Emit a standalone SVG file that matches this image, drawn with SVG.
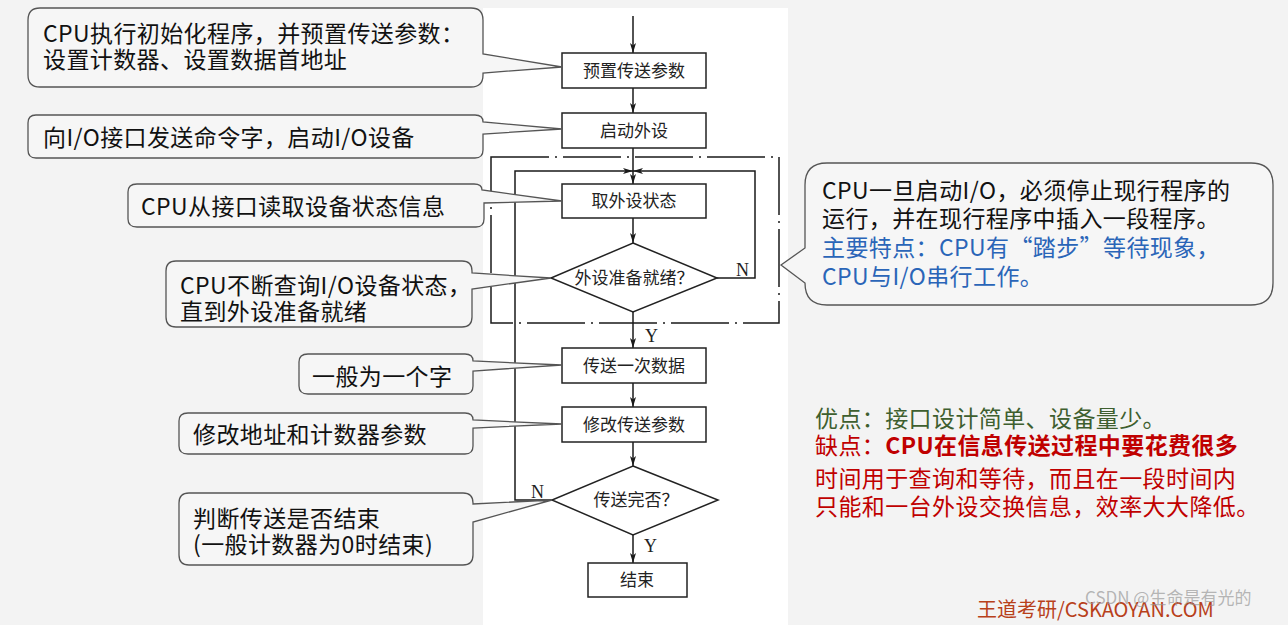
<svg xmlns="http://www.w3.org/2000/svg" width="1288" height="625" viewBox="0 0 1288 625">
<defs>
<marker id="ah" viewBox="0 0 10 6" refX="10" refY="3" markerWidth="10" markerHeight="6" markerUnits="userSpaceOnUse" orient="auto">
<path d="M0,0 L10,3 L0,6 L2.5,3 Z" fill="#1a1a1a"/>
</marker>
<style>
.box{fill:#fff;stroke:#222;stroke-width:1.5}
.fl{font-family:"Noto Sans CJK SC","Noto Sans",sans-serif;font-size:17px;fill:#222;text-anchor:middle}
.yn{font-family:"Liberation Serif",serif;font-size:18px;fill:#222}
.con{fill:none;stroke:#1a1a1a;stroke-width:1.5}
.arr{marker-end:url(#ah)}
.co{fill:#f6f6f6;stroke:#555;stroke-width:1.3}
.ct{font-family:"Noto Sans CJK SC","Noto Sans",sans-serif;font-size:23px;letter-spacing:0.4px;fill:#111}
.blue{fill:#2a65b8}
.grn{fill:#3e5f2f}
.red{fill:#c00000}
</style>
</defs>
<rect x="0" y="0" width="1288" height="625" fill="#f3f3f3"/>
<rect x="483" y="8" width="305" height="617" fill="#ffffff"/>

<g id="connectors">
<rect x="491" y="157" width="288" height="166" fill="none" stroke="#1a1a1a" stroke-width="1.5" stroke-dasharray="58 6 2 6"/>
<path class="con arr" d="M633,16 V53"/>
<path class="con arr" d="M633,88 V113"/>
<path class="con arr" d="M633,148 V184"/>
<path class="con arr" d="M717,278 H755 V171 H633"/>
<path class="con arr" d="M552,500 H515 V171 H633"/>
<path class="con arr" d="M633,218 V243"/>
<path class="con arr" d="M633,312 V348"/>
<path class="con arr" d="M633,383 V407"/>
<path class="con arr" d="M633,442 V466"/>
<path class="con arr" d="M633,535 V563"/>
<text class="yn" x="736" y="276">N</text>
<text class="yn" x="645" y="342">Y</text>
<text class="yn" x="531" y="498">N</text>
<text class="yn" x="644" y="552">Y</text>
</g>

<g id="n-preset"><rect class="box" x="562" y="53" width="144" height="35"/><text class="fl" x="634" y="77">预置传送参数</text></g>
<g id="n-start"><rect class="box" x="562" y="113" width="144" height="35"/><text class="fl" x="634" y="137">启动外设</text></g>
<g id="n-status"><rect class="box" x="562" y="184" width="144" height="34"/><text class="fl" x="634" y="207">取外设状态</text></g>
<g id="n-ready"><path class="box" d="M633,243 L717,278 L633,312 L551,278 Z"/><text class="fl" x="634" y="284">外设准备就绪？</text></g>
<g id="n-send"><rect class="box" x="562" y="348" width="144" height="35"/><text class="fl" x="634" y="372">传送一次数据</text></g>
<g id="n-modify"><rect class="box" x="562" y="407" width="144" height="35"/><text class="fl" x="634" y="431">修改传送参数</text></g>
<g id="n-done"><path class="box" d="M633,466 L718,500 L633,535 L552,500 Z"/><text class="fl" x="636" y="506">传送完否？</text></g>
<g id="n-end"><rect class="box" x="588" y="563" width="99" height="34"/><text class="fl" x="637" y="586">结束</text></g>

<g id="c1">
<path class="co" d="M40,8 H471 Q483,8 483,20 V54 L562,67 L483,73 V75 Q483,87 471,87 H40 Q28,87 28,75 V20 Q28,8 40,8 Z"/>
<text class="ct" x="43" y="42">CPU执行初始化程序，并预置传送参数：</text>
<text class="ct" x="43" y="68">设置计数器、设置数据首地址</text>
</g>
<g id="c2">
<path class="co" d="M36,115 H475 Q483,115 483,122 L562,129 L483,134 V150 Q483,158 475,158 H36 Q28,158 28,150 V123 Q28,115 36,115 Z"/>
<text class="ct" x="43" y="146">向I/O接口发送命令字，启动I/O设备</text>
</g>
<g id="c3">
<path class="co" d="M137,184 H474 Q482,184 482,190 L562,201 L484,203 V219 Q484,227 476,227 H137 Q128,227 128,219 V192 Q128,184 137,184 Z"/>
<text class="ct" x="141" y="215">CPU从接口读取设备状态信息</text>
</g>
<g id="c4">
<path class="co" d="M176,261 H462 Q472,261 472,271 V273 L551,278 L472,289 V317 Q472,327 462,327 H176 Q166,327 166,317 V271 Q166,261 176,261 Z"/>
<text class="ct" x="180" y="294">CPU不断查询I/O设备状态，</text>
<text class="ct" x="180" y="320">直到外设准备就绪</text>
</g>
<g id="c5">
<path class="co" d="M308,354 H465 Q473,354 473,361 L562,365 L473,371 V386 Q473,394 465,394 H308 Q299,394 299,386 V362 Q299,354 308,354 Z"/>
<text class="ct" x="312" y="385">一般为一个字</text>
</g>
<g id="c6">
<path class="co" d="M188,413 H465 Q473,413 473,420 L562,424 L473,428 V446 Q473,454 465,454 H188 Q179,454 179,446 V421 Q179,413 188,413 Z"/>
<text class="ct" x="193" y="443">修改地址和计数器参数</text>
</g>
<g id="c7">
<path class="co" d="M189,493 H463 Q473,493 473,503 V504 L552,500 L473,522 V555 Q473,565 463,565 H189 Q179,565 179,555 V503 Q179,493 189,493 Z"/>
<text class="ct" x="193" y="527">判断传送是否结束</text>
<text class="ct" x="193" y="553">(一般计数器为0时结束)</text>
</g>
<g id="c-right">
<path class="co" d="M827,163 H1251 Q1273,163 1273,185 V283 Q1273,305 1251,305 H827 Q805,305 805,283 L781,265 L805,248 V185 Q805,163 827,163 Z"/>
<text class="ct" x="822" y="199">CPU一旦启动I/O，必须停止现行程序的</text>
<text class="ct" x="822" y="227">运行，并在现行程序中插入一段程序。</text>
<text class="ct blue" x="822" y="256">主要特点：CPU有“踏步”等待现象，</text>
<text class="ct blue" x="822" y="285">CPU与I/O串行工作。</text>
</g>
<g id="notes">
<text class="ct grn" x="815" y="427">优点：接口设计简单、设备量少。</text>
<text class="ct red" x="815" y="454">缺点：<tspan font-weight="bold">CPU在信息传送过程中要花费很多</tspan></text>
<text class="ct red" x="815" y="487">时间用于查询和等待，而且在一段时间内</text>
<text class="ct red" x="815" y="515">只能和一台外设交换信息，效率大大降低。</text>
<text x="977" y="617" font-family="Noto Sans CJK SC, Liberation Sans, sans-serif" font-size="20" fill="#b8401a">王道考研/CSKAOYAN.COM</text>
<text x="1085" y="604" font-family="Noto Sans CJK SC, Liberation Sans, sans-serif" font-size="17" fill="#999" fill-opacity="0.7">CSDN @生命是有光的</text>
</g>
</svg>
